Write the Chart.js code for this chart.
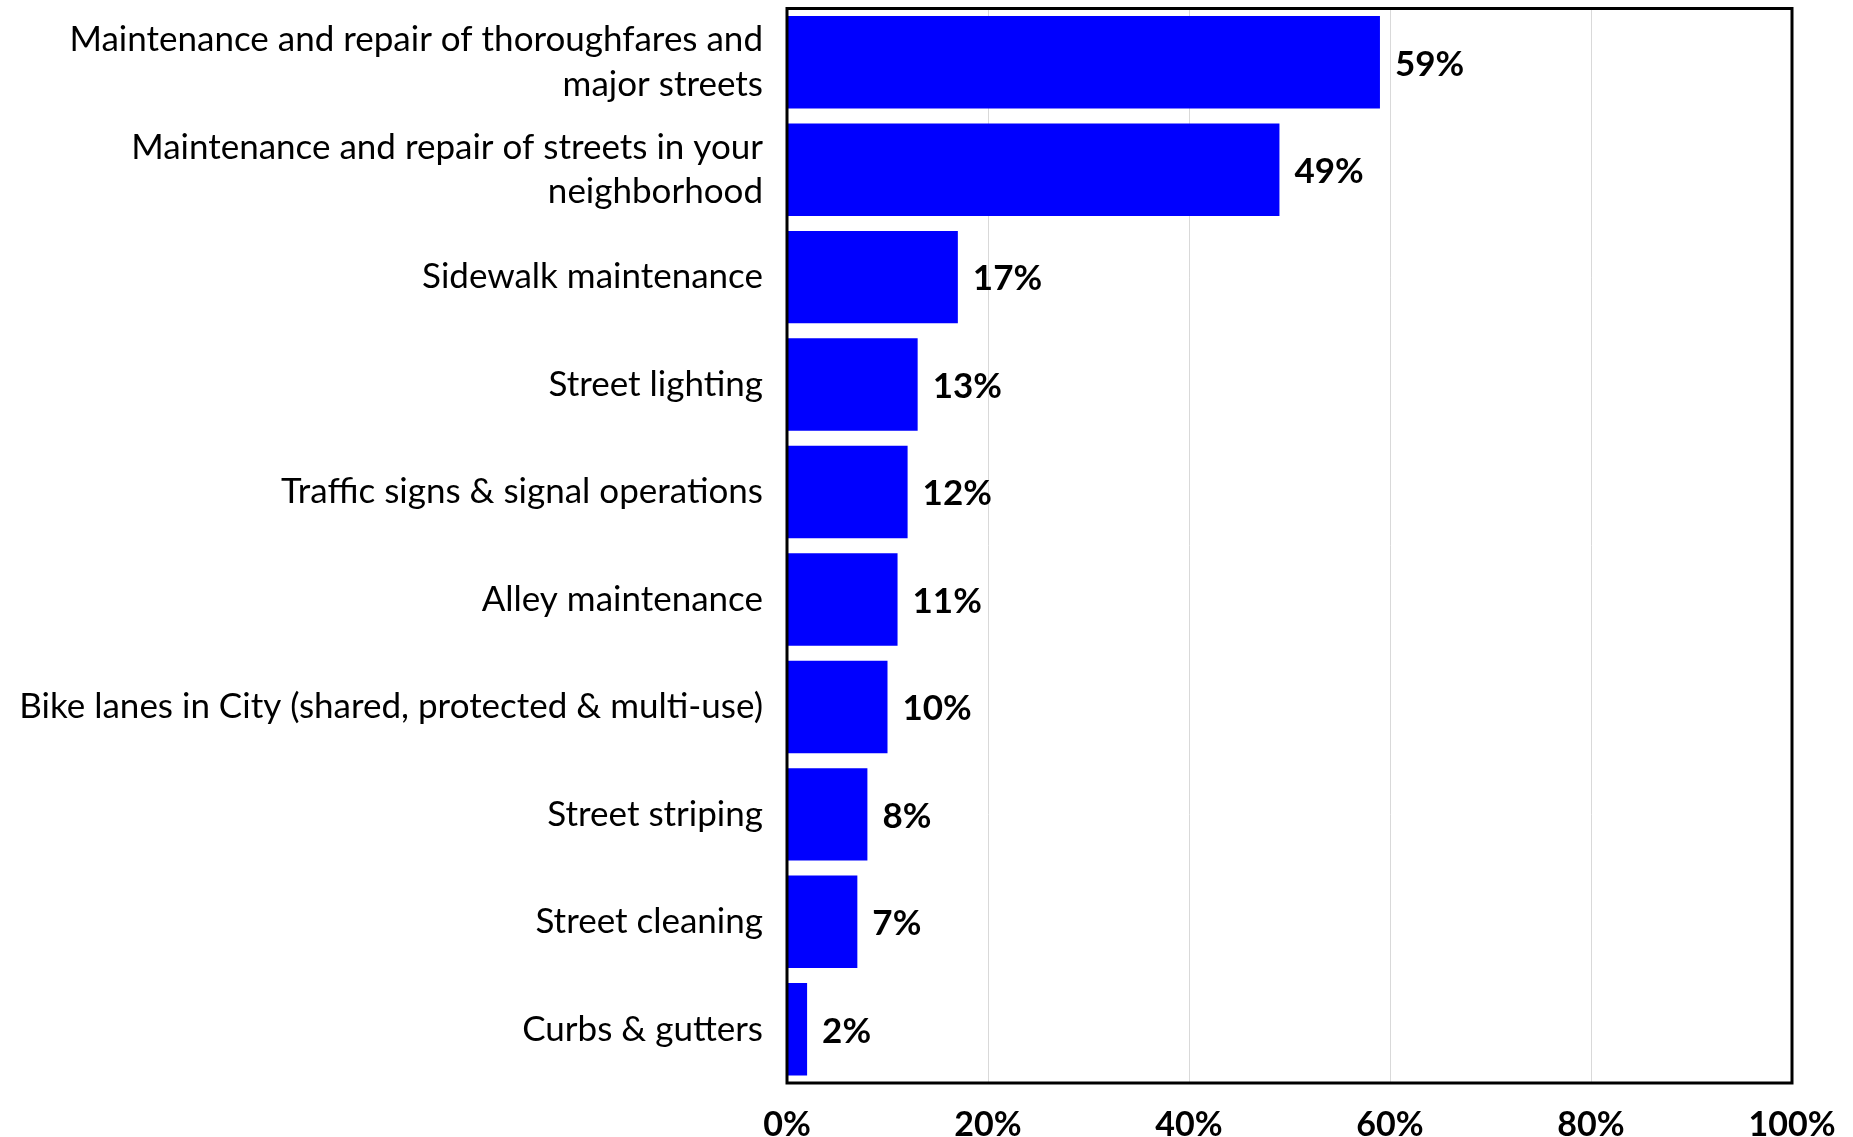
<!DOCTYPE html>
<html>
<head>
<meta charset="utf-8">
<script src="https://cdn.jsdelivr.net/npm/chart.js@4.4.1/dist/chart.umd.min.js"></script>
<style>
  html, body { margin:0; padding:0; background:#fff; }
  #wrap { width:1853px; height:1137px; position:relative; }
</style>
</head>
<body>
<div id="wrap"><canvas id="chart"></canvas></div>
<script>
/* Street maintenance priorities — horizontal bar chart */

const CATEGORIES = [
  ['Maintenance and repair of thoroughfares and', 'major streets'],
  ['Maintenance and repair of streets in your', 'neighborhood'],
  'Sidewalk maintenance',
  'Street lighting',
  'Traffic signs & signal operations',
  'Alley maintenance',
  'Bike lanes in City (shared, protected & multi-use)',
  'Street striping',
  'Street cleaning',
  'Curbs & gutters'
];
const VALUES = [59, 49, 17, 13, 12, 11, 10, 8, 7, 2];
const X_TICKS = [0, 20, 40, 60, 80, 100];

const COLORS = { bar:'#0000ff', grid:'#d9d9d9', ink:'#000000' };
const FONT = 'Lato, "Open Sans", sans-serif';

// black frame round the plot area
const framePlugin = {
  id:'frame',
  afterDatasetsDraw(chart){
    const {ctx, chartArea:a} = chart;
    ctx.save();
    ctx.strokeStyle = COLORS.ink;
    ctx.lineWidth = 3;
    ctx.strokeRect(a.left, a.top, a.right - a.left, a.bottom - a.top);
    ctx.restore();
  }
};

// bold value labels to the right of each bar
const valueLabels = {
  id:'valueLabels',
  afterDatasetsDraw(chart){
    const {ctx} = chart;
    const meta = chart.getDatasetMeta(0);
    ctx.save();
    ctx.font = `bold 35px ${FONT}`;
    ctx.fillStyle = COLORS.ink;
    ctx.textAlign = 'left';
    ctx.textBaseline = 'middle';
    meta.data.forEach((bar, i) => {
      ctx.fillText(VALUES[i] + '%', bar.x + 15, bar.y + 2);
    });
    ctx.restore();
  }
};

new Chart(document.getElementById('chart').getContext('2d'), {
  type:'bar',
  data:{
    labels:CATEGORIES,
    datasets:[{
      data:VALUES,
      backgroundColor:COLORS.bar,
      borderWidth:0,
      categoryPercentage:0.86,
      barPercentage:1
    }]
  },
  options:{
    indexAxis:'y',
    responsive:true, maintainAspectRatio:false,
    animation:false,
    layout:{padding:{top:8.5, right:61, left:0, bottom:0}},
    plugins:{legend:{display:false}, tooltip:{enabled:false}},
    scales:{
      x:{
        min:0, max:100,
        afterBuildTicks(scale){ scale.ticks = X_TICKS.map(v => ({value:v})); },
        afterFit(scale){ scale.height = 54; scale.paddingLeft = 0; scale.paddingRight = 0; },
        grid:{color:COLORS.grid, lineWidth:1, drawTicks:false},
        border:{display:false},
        ticks:{
          padding:22,
          color:COLORS.ink,
          font:{family:FONT, size:34, weight:'bold'},
          callback:v => v + '%'
        }
      },
      y:{
        afterFit(scale){ scale.width = 787; scale.paddingTop = 0; scale.paddingBottom = 0; },
        grid:{display:false, drawTicks:false},
        border:{display:false},
        ticks:{
          padding:24,
          color:COLORS.ink,
          font:{family:FONT, size:35, lineHeight:1.28}
        }
      }
    }
  },
  plugins:[framePlugin, valueLabels]
});
</script>
</body>
</html>
